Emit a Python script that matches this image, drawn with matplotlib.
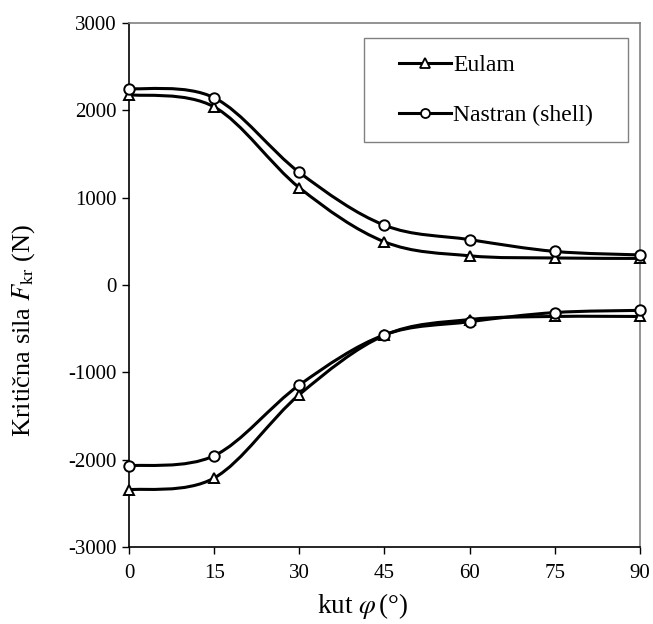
import numpy as np
import matplotlib
matplotlib.use("Agg")
import matplotlib.pyplot as plt
from matplotlib.path import Path
from matplotlib.patches import PathPatch, Rectangle
from matplotlib.lines import Line2D

plt.rcParams['font.family'] = ['Liberation Serif', 'DejaVu Serif']
plt.rcParams['mathtext.fontset'] = 'stix'
plt.rcParams['axes.unicode_minus'] = False

angles = [0, 15, 30, 45, 60, 75, 90]
eulam_pos = [2180, 2040, 1115, 495, 335, 310, 305]
nastran_pos = [2250, 2145, 1290, 685, 520, 385, 345]
eulam_neg = [-2345, -2210, -1255, -575, -395, -360, -360]
nastran_neg = [-2070, -1955, -1145, -570, -420, -315, -290]
xticks = [0, 15, 30, 45, 60, 75, 90]
yticks = [-3000, -2000, -1000, 0, 1000, 2000, 3000]


def smooth_path(x, y):
    pts = np.column_stack([x, y]).astype(float)
    n = len(pts)
    verts = [pts[0]]
    codes = [Path.MOVETO]
    for i in range(n - 1):
        p0 = pts[i - 1] if i > 0 else pts[i]
        p1 = pts[i]
        p2 = pts[i + 1]
        p3 = pts[i + 2] if i + 2 < n else pts[i + 1]
        c1 = p1 + (p2 - p0) / 6.0
        c2 = p2 - (p3 - p1) / 6.0
        verts += [c1, c2, p2]
        codes += [Path.CURVE4] * 3
    return Path(verts, codes)


fig = plt.figure(figsize=(6.53, 6.24), dpi=100)
ax = fig.add_axes([0.1975, 0.1234, 0.7825, 0.8396])

series = [
    (eulam_pos, '^'),
    (nastran_pos, 'o'),
    (eulam_neg, '^'),
    (nastran_neg, 'o'),
]
for vals, mk in series:
    patch = PathPatch(smooth_path(angles, vals), facecolor='none',
                      edgecolor='black', lw=2.2, zorder=2)
    ax.add_patch(patch)
    ax.plot(angles, vals, linestyle='none', marker=mk, markersize=7.5,
            markerfacecolor='white', markeredgecolor='black',
            markeredgewidth=1.4, zorder=3, clip_on=False)

ax.set_xlim(0, 90)
ax.set_ylim(-3000, 3000)
ax.set_xticks(xticks)
ax.set_yticks(yticks)
ax.tick_params(axis='both', direction='out', length=5, width=1,
               labelsize=15, colors='black')
ax.tick_params(axis='x', pad=7)
ax.tick_params(axis='y', pad=4)
ax.spines['left'].set_color('black')
ax.spines['bottom'].set_color('black')
ax.spines['top'].set_color('#808080')
ax.spines['right'].set_color('#808080')
for s in ax.spines.values():
    s.set_linewidth(1.2)

ax.set_xlabel(r'kut $\varphi\,$(°)', fontsize=19.5, va='center')
ax.set_ylabel(r'Kritična sila $F_{\mathrm{kr}}$ (N)', fontsize=19, va='center')
ax.xaxis.set_label_coords(0.458, -0.113)
ax.yaxis.set_label_coords(-0.207, 0.414)

# legend frame
ax.add_patch(Rectangle((0.46, 0.773), 0.517, 0.198, transform=ax.transAxes,
                       facecolor='white', edgecolor='#808080', lw=1.0,
                       zorder=4))

handles = [
    Line2D([], [], color='black', lw=2.2, marker='^', markersize=6.5,
           markerfacecolor='white', markeredgecolor='black', markeredgewidth=1.3),
    Line2D([], [], color='black', lw=2.2, marker='o', markersize=6.5,
           markerfacecolor='white', markeredgecolor='black', markeredgewidth=1.3),
]
leg = ax.legend(handles, ['Eulam', 'Nastran (shell)'], loc='center',
                bbox_to_anchor=(0.718, 0.872), fontsize=17, frameon=False,
                handlelength=2.2, handletextpad=0.1, labelspacing=1.2,
                borderpad=0.0, borderaxespad=0)
leg.set_zorder(5)

fig.savefig('out.png', dpi=100)
